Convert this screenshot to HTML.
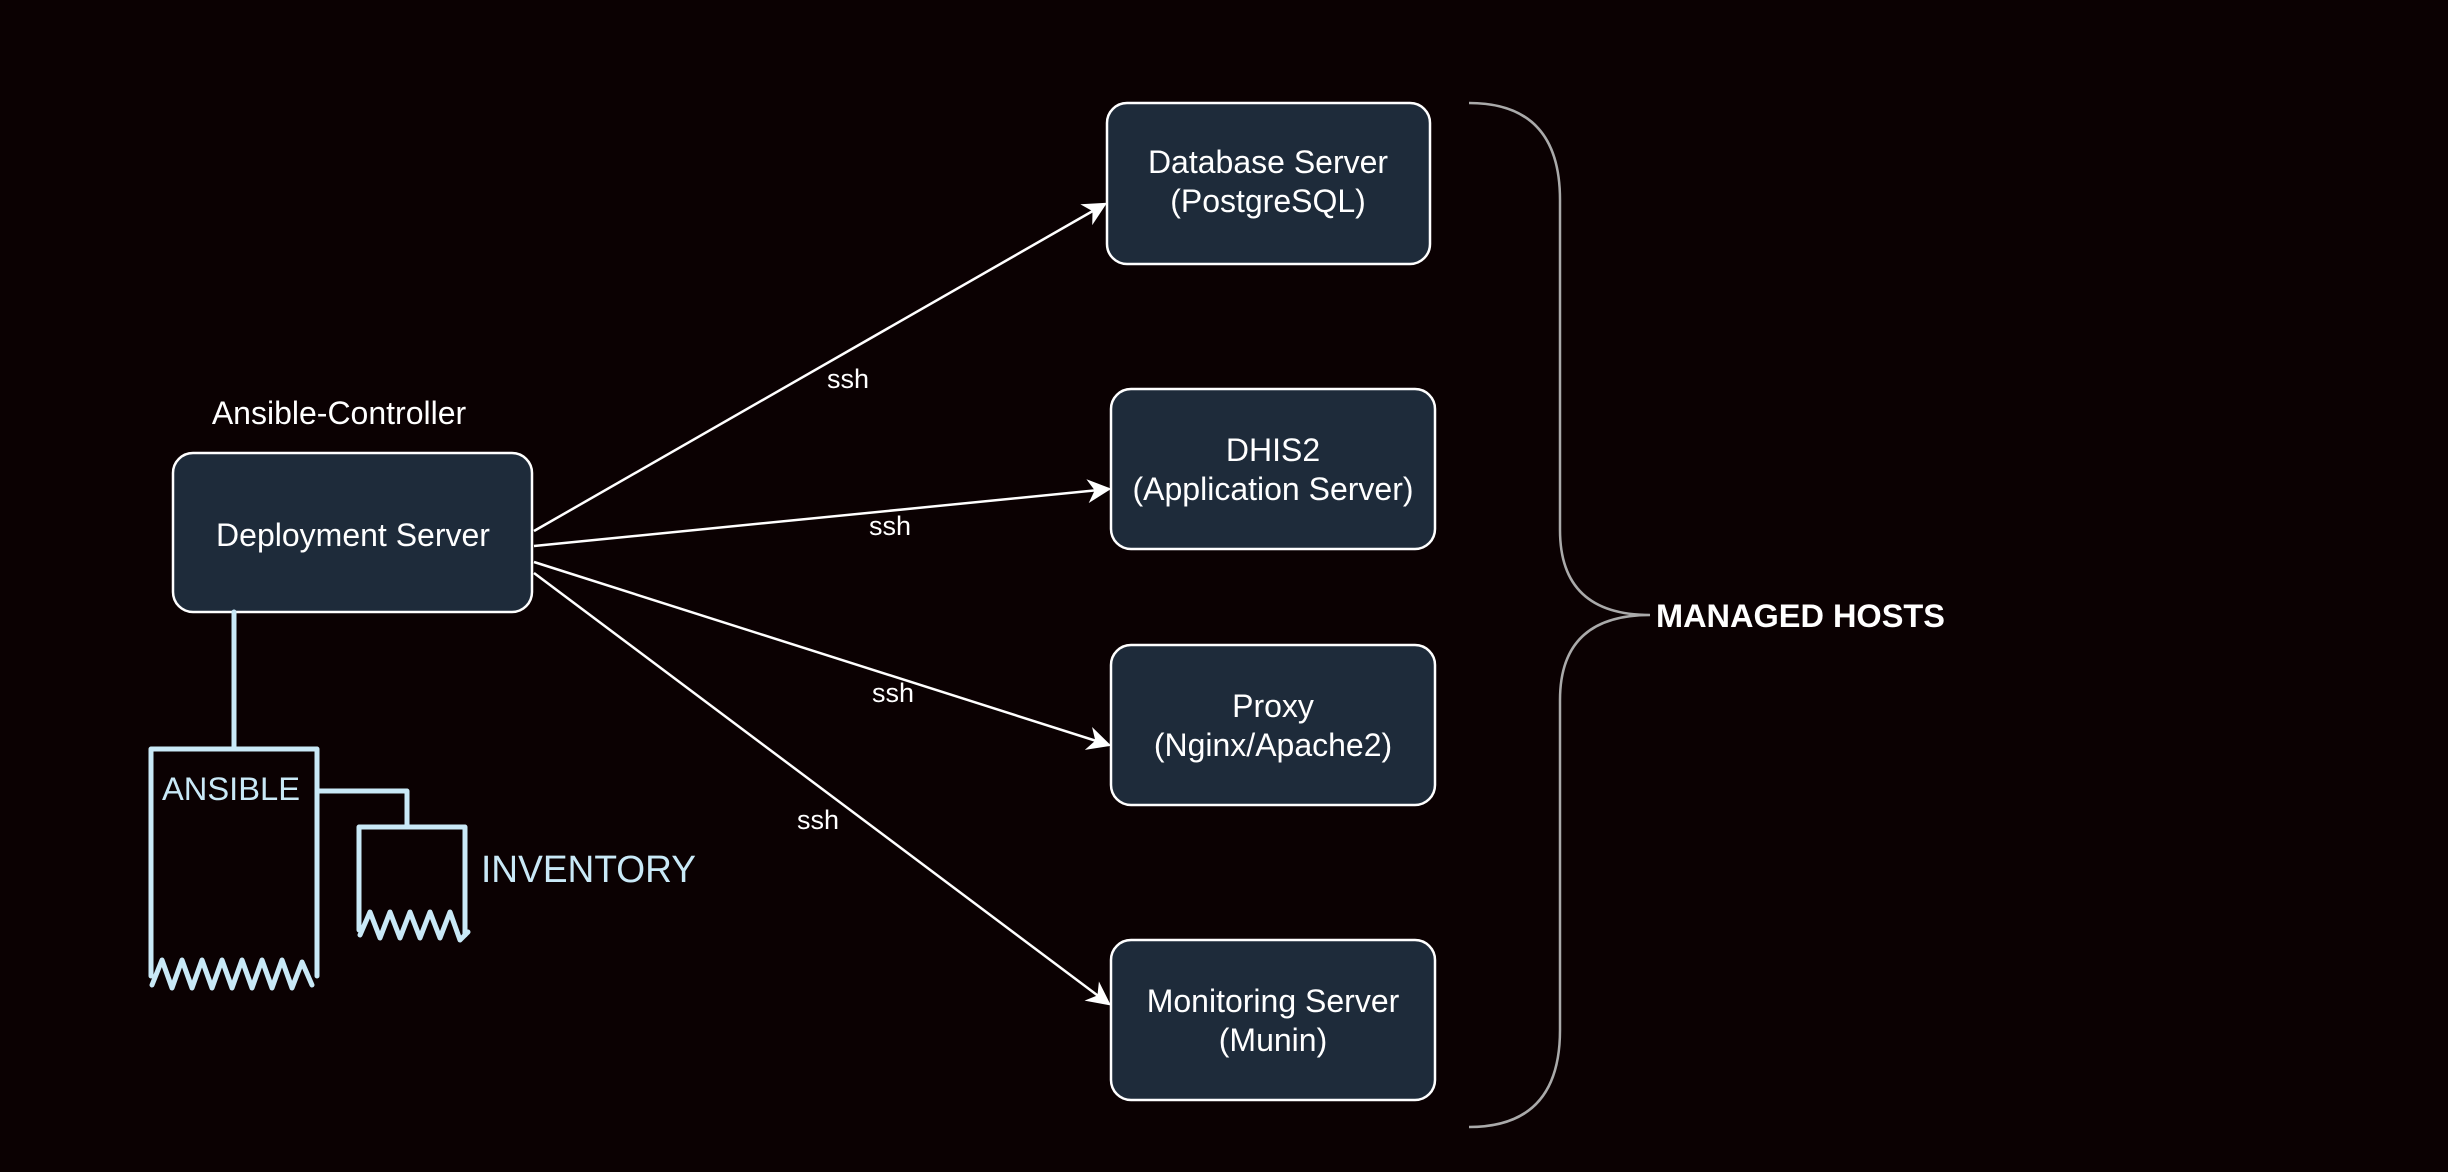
<!DOCTYPE html>
<html><head><meta charset="utf-8"><style>
html,body{margin:0;padding:0;background:#0b0102;}
svg{display:block}
text{font-family:"Liberation Sans",sans-serif;fill:#fff}
</style></head><body>
<svg width="2448" height="1172" viewBox="0 0 2448 1172" xmlns="http://www.w3.org/2000/svg">
<rect width="2448" height="1172" fill="#0b0102"/>
<defs>
<marker id="b" viewBox="0 0 20 20" markerWidth="24" markerHeight="24" refX="18" refY="10" orient="auto" markerUnits="userSpaceOnUse"><path d="M0,0 L20,10 L0,20 L6,10 Z" fill="#fff"/></marker></defs>
<g stroke="#fff" stroke-width="2.5" fill="none">
<line x1="534" y1="531" x2="1105" y2="204" marker-end="url(#b)"/>
<line x1="534" y1="546" x2="1109" y2="489" marker-end="url(#b)"/>
<line x1="534" y1="562" x2="1109" y2="745" marker-end="url(#b)"/>
<line x1="534" y1="573" x2="1109" y2="1004" marker-end="url(#b)"/>
</g>
<g fill="#1e2b3a" stroke="#fff" stroke-width="2.5">
<rect x="173" y="453" width="359" height="159" rx="20"/>
<rect x="1107" y="103" width="323" height="161" rx="20"/>
<rect x="1111" y="389" width="324" height="160" rx="20"/>
<rect x="1111" y="645" width="324" height="160" rx="20"/>
<rect x="1111" y="940" width="324" height="160" rx="20"/>
</g>
<g font-size="32" text-anchor="middle">
<text x="339" y="424">Ansible-Controller</text>
<text x="353" y="546">Deployment Server</text>
<text x="1268" y="173">Database Server</text>
<text x="1268" y="212">(PostgreSQL)</text>
<text x="1273" y="461">DHIS2</text>
<text x="1273" y="500">(Application Server)</text>
<text x="1273" y="717">Proxy</text>
<text x="1273" y="756">(Nginx/Apache2)</text>
<text x="1273" y="1012">Monitoring Server</text>
<text x="1273" y="1051">(Munin)</text>
</g>
<g font-size="27" text-anchor="middle">
<text x="848" y="388">ssh</text>
<text x="890" y="535">ssh</text>
<text x="893" y="702">ssh</text>
<text x="818" y="829">ssh</text>
</g>
<path d="M1469,103 Q1560,103 1560,200 L1560,530 Q1560,615 1650,615 Q1560,615 1560,700 L1560,1030 Q1560,1127 1469,1127" stroke="#aaa" stroke-width="2.5" fill="none"/>
<text x="1656" y="627" font-size="32.5" font-weight="bold">MANAGED HOSTS</text>
<g stroke="#c9e9f7" stroke-width="5" fill="none" stroke-linecap="round" stroke-linejoin="round">
<line x1="234" y1="612" x2="234" y2="749"/>
<path d="M151,976 L151,749 L317,749 L317,976"/>
<path d="M152,985 L162,960 L172,988 L182,960 L192,988 L202,960 L212,988 L222,960 L232,988 L242,960 L252,988 L262,960 L272,988 L282,960 L292,988 L302,962 L312,985"/>
<path d="M317,791 L407,791 L407,827"/>
<path d="M359,930 L359,827 L465,827 L465,935"/>
<path d="M360,935 L370,912 L380,938 L390,912 L400,938 L410,912 L420,938 L430,912 L440,938 L450,912 L460,940 L468,932"/>
</g>
<text x="162" y="800" font-size="32" style="fill:#c9e9f7" textLength="138" lengthAdjust="spacingAndGlyphs">ANSIBLE</text>
<text x="481" y="882" font-size="38" style="fill:#c9e9f7" textLength="215" lengthAdjust="spacingAndGlyphs">INVENTORY</text>
</svg>
</body></html>
